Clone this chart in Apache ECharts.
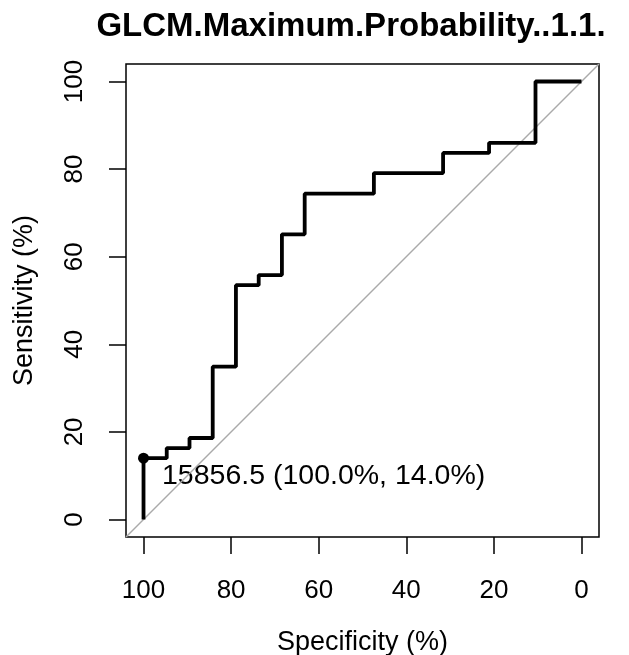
<!DOCTYPE html>
<html>
<head>
<meta charset="utf-8">
<script src="https://cdn.jsdelivr.net/npm/echarts@6/dist/echarts.min.js"></script>
<style>
  html, body { margin: 0; padding: 0; background: #fff; }
  #roc { width: 629px; height: 655px; }
</style>
</head>
<body>
<div id="roc"></div>
<script>
// ROC curve vertices (specificity %, sensitivity %)
var specificity = [100, 100, 94.7, 94.7, 89.5, 89.5, 84.2, 84.2, 78.9, 78.9, 73.7, 73.7, 68.4, 68.4,
    63.2, 63.2, 47.4, 47.4, 31.6, 31.6, 21.1, 21.1, 10.5, 10.5, 0];
var sensitivity = [0, 14.0, 14.0, 16.3, 16.3, 18.6, 18.6, 34.9, 34.9, 53.5, 53.5, 55.8, 55.8, 65.1,
    65.1, 74.4, 74.4, 79.1, 79.1, 83.7, 83.7, 86.0, 86.0, 100, 100];

// best threshold
var thresholdValue = '15856.5';
var thresholdPoint = [100, 14.0];

var tickRange = [0, 100];
var tickStep = 20;
var axisRange = [-4, 104];

var curveData = [];
for (var i = 0; i < specificity.length; i++) {
    curveData.push([specificity[i], sensitivity[i]]);
}

var font = '"Liberation Sans", Arial, Helvetica, sans-serif';

// plot box (R style, 4% padding each side)
var box = { left: 126, right: 30, top: 64, bottom: 118 };
var boxSize = 473;
var pad = boxSize * 4 / 108;

var myChart = echarts.init(document.getElementById('roc'));
var option = {
    animation: false,
    backgroundColor: '#fff',
    graphic: [{
        type: 'text',
        x: 351,
        y: 27,
        style: {
            text: 'GLCM.Maximum.Probability..1.1.',
            font: 'bold 33px ' + font,
            fill: '#000',
            textAlign: 'center',
            textVerticalAlign: 'middle'
        }
    }],
    grid: [{
            left: box.left,
            right: box.right,
            top: box.top,
            bottom: box.bottom,
            outerBoundsMode: 'none',
            show: true,
            borderColor: '#000',
            borderWidth: 1.5
        },
        {
            // inner grid spanning 0..100, used only for ticks and labels
            left: box.left + pad,
            right: box.right + pad,
            top: box.top + pad,
            bottom: box.bottom + pad,
            outerBoundsMode: 'none'
        }
    ],
    xAxis: [{
            type: 'value',
            gridIndex: 0,
            inverse: true,
            min: axisRange[0],
            max: axisRange[1],
            show: false
        },
        {
            type: 'value',
            gridIndex: 1,
            inverse: true,
            min: tickRange[0],
            max: tickRange[1],
            interval: tickStep,
            offset: pad,
            name: 'Specificity (%)',
            nameLocation: 'middle',
            nameGap: 92,
            nameTextStyle: { fontFamily: font, fontSize: 27, color: '#000' },
            splitLine: { show: false },
            axisLine: { show: false, onZero: false },
            axisTick: {
                show: true,
                length: 17,
                lineStyle: { color: '#000', width: 1.5 }
            },
            axisLabel: {
                margin: 41,
                fontFamily: font,
                fontSize: 26,
                color: '#000'
            }
        }
    ],
    yAxis: [{
            type: 'value',
            gridIndex: 0,
            min: axisRange[0],
            max: axisRange[1],
            show: false
        },
        {
            type: 'value',
            gridIndex: 1,
            min: tickRange[0],
            max: tickRange[1],
            interval: tickStep,
            offset: pad,
            name: 'Sensitivity (%)',
            nameLocation: 'middle',
            nameGap: 88,
            nameTextStyle: { fontFamily: font, fontSize: 27, color: '#000' },
            splitLine: { show: false },
            axisLine: { show: false, onZero: false },
            axisTick: {
                show: true,
                length: 17,
                lineStyle: { color: '#000', width: 1.5 }
            },
            axisLabel: {
                rotate: 90,
                margin: 38,
                fontFamily: font,
                fontSize: 26,
                color: '#000'
            }
        }
    ],
    series: [{
            name: 'diagonal',
            type: 'line',
            silent: true,
            symbol: 'none',
            xAxisIndex: 0,
            yAxisIndex: 0,
            data: [[axisRange[1], axisRange[0]], [axisRange[0], axisRange[1]]],
            lineStyle: { color: '#aaaaaa', width: 1.5 }
        },
        {
            name: 'roc',
            type: 'line',
            symbol: 'none',
            xAxisIndex: 0,
            yAxisIndex: 0,
            data: curveData,
            lineStyle: { color: '#000', width: 3.8 }
        },
        {
            name: 'threshold',
            type: 'scatter',
            symbol: 'circle',
            symbolSize: 11,
            xAxisIndex: 0,
            yAxisIndex: 0,
            data: [thresholdPoint],
            itemStyle: { color: '#000', opacity: 1 },
            label: {
                show: true,
                position: 'right',
                distance: 13,
                offset: [0, 18],
                formatter: thresholdValue + ' (' + thresholdPoint[0].toFixed(1) + '%, ' + thresholdPoint[1].toFixed(1) + '%)',
                fontFamily: font,
                fontSize: 28.5,
                color: '#000',
                opacity: 1
            }
        }
    ]
};
myChart.setOption(option);
</script>
</body>
</html>
